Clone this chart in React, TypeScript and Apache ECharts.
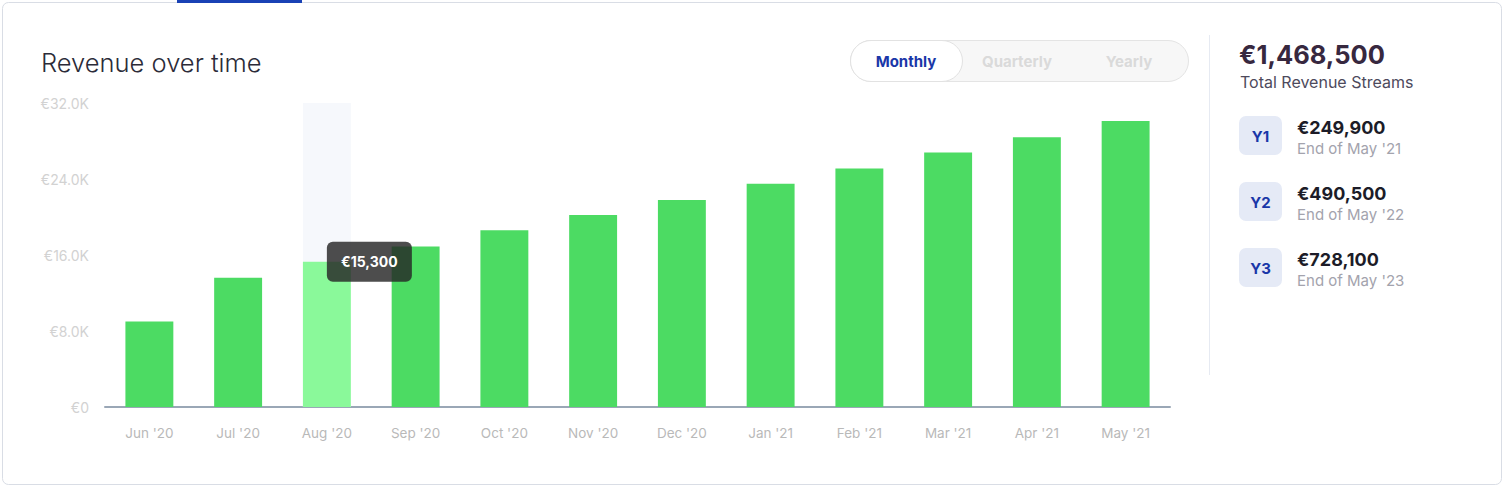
import React, { useEffect, useRef } from "react";
import * as echarts from "echarts";

const months = ["Jun '20", "Jul '20", "Aug '20", "Sep '20", "Oct '20", "Nov '20", "Dec '20", "Jan '21", "Feb '21", "Mar '21", "Apr '21", "May '21"];
const revenue = [9000, 13600, 15300, 16900, 18600, 20200, 21800, 23500, 25100, 26800, 28400, 30100];
const highlightIndex = 2;
const yMax = 32000;
const yInterval = 8000;
const toggleLabels = ["Monthly", "Quarterly", "Yearly"];
const totalRevenue = "€1,468,500";
const totalLabel = "Total Revenue Streams";
const yearBadges = ["Y1", "Y2", "Y3"];
const yearValues = ["€249,900", "€490,500", "€728,100"];
const yearSubs = ["End of May '21", "End of May '22", "End of May '23"];

const FONT = "Inter, 'Open Sans', sans-serif";

export default function App() {
  const ref = useRef<HTMLDivElement>(null);
  useEffect(() => {
    if (!ref.current) return;
    const chart = echarts.init(ref.current, null, { renderer: "svg" });
    const shadowData = months.map((_, i) => (i === highlightIndex ? yMax : null));
    const barData = revenue.map((v, i) =>
      i === highlightIndex ? { value: v, itemStyle: { color: "#8AF99A" } } : v
    );
    const baseGraphics: any[] = [
      { type: "rect", shape: { x: 2.5, y: 2.5, width: 1499, height: 482, r: 6 }, style: { fill: "#fff", stroke: "#d9dde5", lineWidth: 1 }, z: -10, silent: true },
      { type: "rect", shape: { x: 177, y: 0, width: 125, height: 3 }, style: { fill: "#1941b5" }, z: 10 },
      { type: "text", x: 41, y: 62, style: { text: "Revenue over time", font: `300 25.5px ${FONT}`, fill: "#2b2b38", verticalAlign: "middle" } },
      // toggle
      { type: "rect", shape: { x: 850.5, y: 40.5, width: 338, height: 41, r: 20.5 }, style: { fill: "#f7f7f7", stroke: "#e4e4e4", lineWidth: 1 } },
      { type: "rect", shape: { x: 850.5, y: 40.5, width: 112, height: 41, r: 20.5 }, style: { fill: "#ffffff", stroke: "#e2e2e2", lineWidth: 1 } },
      { type: "text", x: 906, y: 61, style: { text: toggleLabels[0], font: `700 15px ${FONT}`, fill: "#1a37a8", align: "center", verticalAlign: "middle" } },
      { type: "text", x: 1017, y: 61, style: { text: toggleLabels[1], font: `700 15px ${FONT}`, fill: "#dadada", align: "center", verticalAlign: "middle" } },
      { type: "text", x: 1129, y: 61, style: { text: toggleLabels[2], font: `700 15px ${FONT}`, fill: "#dadada", align: "center", verticalAlign: "middle" } },
      // divider
      { type: "line", shape: { x1: 1209.5, y1: 35, x2: 1209.5, y2: 375 }, style: { stroke: "#e6eaf2", lineWidth: 1 } },
      { type: "text", x: 1239, y: 54, style: { text: totalRevenue, font: `700 25.5px ${FONT}`, fill: "#37283f", verticalAlign: "middle" } },
      { type: "text", x: 1240, y: 82, style: { text: totalLabel, font: `400 16px ${FONT}`, fill: "#4d4a5c", verticalAlign: "middle" } },
    ];
    yearBadges.forEach((b, i) => {
      const top = 116 + i * 66;
      baseGraphics.push(
        { type: "rect", shape: { x: 1239, y: top, width: 43, height: 39, r: 7 }, style: { fill: "#e5eaf6" } },
        { type: "text", x: 1260.5, y: top + 20, style: { text: b, font: `700 15px ${FONT}`, fill: "#1a37a8", align: "center", verticalAlign: "middle" } },
        { type: "text", x: 1297, y: top + 11, style: { text: yearValues[i], font: `700 18px ${FONT}`, fill: "#1c1c28", verticalAlign: "middle" } },
        { type: "text", x: 1297, y: top + 32, style: { text: yearSubs[i], font: `400 15px ${FONT}`, fill: "#a3a3ad", verticalAlign: "middle" } }
      );
    });

    chart.setOption({
      animation: false,
      grid: { left: 105, right: 334, top: 103, bottom: 80 },
      xAxis: {
        type: "category",
        data: months,
        axisLine: { lineStyle: { color: "#9aa7b6", width: 2 } },
        axisTick: { show: false },
        axisLabel: { color: "#b9b9b9", fontSize: 13.5, fontFamily: FONT, margin: 19 },
      },
      yAxis: {
        type: "value",
        min: 0,
        max: yMax,
        interval: yInterval,
        splitLine: { show: false },
        axisLine: { show: false },
        axisTick: { show: false },
        axisLabel: {
          color: "#d2d2d2",
          fontSize: 14,
          fontFamily: FONT,
          margin: 16,
          formatter: (v: number) => (v === 0 ? "€0" : "€" + (v / 1000).toFixed(1) + "K"),
        },
      },
      series: [
        {
          type: "bar",
          data: shadowData,
          barWidth: "54%",
          barGap: "-100%",
          itemStyle: { color: "#f6f8fc" },
          silent: true,
          z: 1,
        },
        {
          type: "bar",
          data: barData,
          barWidth: "54%",
          itemStyle: { color: "#4cdb63" },
          z: 2,
        },
      ],
      graphic: baseGraphics,
    });

    const [px, py] = chart.convertToPixel({ xAxisIndex: 0, yAxisIndex: 0 }, [highlightIndex, revenue[highlightIndex]]);
    const tipW = 85;
    const tipH = 40;
    const tx = px;
    const ty = py - 20;
    chart.setOption({
      graphic: [
        ...baseGraphics,
        { type: "rect", shape: { x: tx, y: ty, width: tipW, height: tipH, r: 6 }, style: { fill: "rgba(38,38,38,0.82)" }, z: 20 },
        { type: "text", x: tx + tipW / 2, y: ty + tipH / 2, z: 21, style: { text: "€" + revenue[highlightIndex].toLocaleString("en-US"), font: `700 14px ${FONT}`, fill: "#ffffff", align: "center", verticalAlign: "middle" } },
      ],
    });

    return () => chart.dispose();
  }, []);
  return <div ref={ref} style={{ position: "absolute", left: 0, top: 0, width: 1504, height: 487 }} />;
}
